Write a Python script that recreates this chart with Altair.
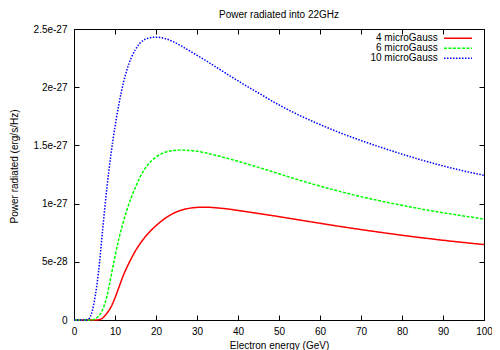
import altair as alt
import pandas as pd

# ---- data (values in units of 1e-27 erg/s/Hz) ----
energy = [0, 3, 3.5, 4, 4.5, 5, 5.5, 6, 7, 8, 9, 10, 11, 12, 13, 14, 15, 16,
          18, 20, 22, 24, 26, 28, 30, 32, 35, 38, 41, 45,
          50, 55, 60, 65, 70, 75, 80, 85, 90, 95, 100]
p4 = [0, 0, 0, 0, 0, 0, 0, 0.002, 0.017, 0.057, 0.11, 0.19, 0.285, 0.38, 0.46, 0.53, 0.595, 0.65,
      0.74, 0.81, 0.868, 0.912, 0.942, 0.959, 0.967, 0.969, 0.963, 0.951, 0.936, 0.915,
      0.888, 0.859, 0.831, 0.803, 0.777, 0.752, 0.728, 0.706, 0.685, 0.666, 0.648]
p6 = [0, 0, 0, 0, 0.002, 0.008, 0.018, 0.033, 0.09, 0.20, 0.37, 0.545, 0.705, 0.84, 0.955, 1.055, 1.14, 1.22,
      1.333, 1.40, 1.438, 1.455, 1.46, 1.457, 1.449, 1.436, 1.411, 1.383, 1.353, 1.311,
      1.256, 1.201, 1.15, 1.103, 1.06, 1.021, 0.985, 0.952, 0.922, 0.894, 0.867]
p10 = [0, 0, 0.005, 0.03, 0.085, 0.17, 0.28, 0.42, 0.78, 1.13, 1.42, 1.66, 1.865, 2.03, 2.16, 2.255, 2.325, 2.375,
       2.42, 2.43, 2.42, 2.394, 2.358, 2.316, 2.274, 2.232, 2.165, 2.098, 2.033, 1.95,
       1.848, 1.758, 1.679, 1.607, 1.542, 1.482, 1.425, 1.372, 1.324, 1.281, 1.243]

series = ["4 microGauss", "6 microGauss", "10 microGauss"]
colors = ["#ff0000", "#00ff00", "#0000ff"]
dashes = [[1, 0], [3, 1.5], [1.5, 1.5]]

x_ticks = [0, 10, 20, 30, 40, 50, 60, 70, 80, 90, 100]
y_ticks = [0, 5e-28, 1e-27, 1.5e-27, 2e-27, 2.5e-27]
title_text = "Power radiated into 22GHz"

rows = []
for name, vals in zip(series, [p4, p6, p10]):
    for e, v in zip(energy, vals):
        rows.append({"energy": e, "power": v * 1e-27, "series": name})
df = pd.DataFrame(rows)

FONT = "Liberation Sans"
common = dict(domain=False, grid=False, tickSize=5, offset=-5, tickColor="black",
              tickWidth=1, labelFont=FONT, labelFontSize=10, labelColor="black",
              labelFlush=False,
              titleFont=FONT, titleFontSize=10, titleFontWeight="normal", titleColor="black")

xscale = alt.Scale(domain=[0, 100], nice=False, zero=False)
yscale = alt.Scale(domain=[0, 2.5e-27], nice=False)

lines = alt.Chart(df).mark_line(strokeWidth=1.5, interpolate="monotone").encode(
    x=alt.X("energy:Q", scale=xscale,
            axis=alt.Axis(values=x_ticks, orient="bottom", title="Electron energy (GeV)",
                          labelPadding=6, titlePadding=4, **common)),
    y=alt.Y("power:Q", scale=yscale,
            axis=alt.Axis(values=y_ticks, orient="left", title="Power radiated (erg/s/Hz)",
                          labelExpr="datum.value == 0 ? '0' : format(datum.value, '~e')",
                          labelPadding=7, titlePadding=14, titleY=137, **common)),
    color=alt.Color("series:N", scale=alt.Scale(domain=series, range=colors), legend=None),
    strokeDash=alt.StrokeDash("series:N", scale=alt.Scale(domain=series, range=dashes), legend=None),
)

mirror = alt.Chart(df).mark_line(strokeOpacity=0).encode(
    x=alt.X("energy:Q", scale=xscale,
            axis=alt.Axis(values=x_ticks, orient="top", labels=False, title=None, **common)),
    y=alt.Y("power:Q", scale=yscale,
            axis=alt.Axis(values=y_ticks, orient="right", labels=False, title=None, **common)),
)

title = alt.Chart(pd.DataFrame({"t": [title_text]})).mark_text(
    align="center", baseline="alphabetic", font=FONT, fontSize=10, color="black"
).encode(x=alt.value(205), y=alt.value(-11.5), text="t:N")

legend_layers = []
for i, (name, col, dash) in enumerate(zip(series, colors, dashes)):
    ypos = 9.3 + 10 * i
    legend_layers.append(
        alt.Chart(pd.DataFrame({"t": [name]})).mark_text(
            align="right", baseline="middle", font=FONT, fontSize=10, color="black"
        ).encode(x=alt.value(363.7), y=alt.value(ypos), text="t:N")
    )
    legend_layers.append(
        alt.Chart(pd.DataFrame({"t": [name]})).mark_rule(
            color=col, strokeDash=dash, strokeWidth=1.5
        ).encode(x=alt.value(370), x2=alt.value(398), y=alt.value(ypos))
    )

chart = alt.layer(lines, mirror, title, *legend_layers).resolve_axis(
    x="independent", y="independent"
).properties(
    width=410, height=291,
    padding={"left": 66, "top": 21, "right": 8, "bottom": 30},
    autosize=alt.AutoSizeParams(type="none"),
).configure_view(stroke="black", strokeWidth=1)

chart.save("out.html", embed_options={"renderer": "svg", "actions": False})
